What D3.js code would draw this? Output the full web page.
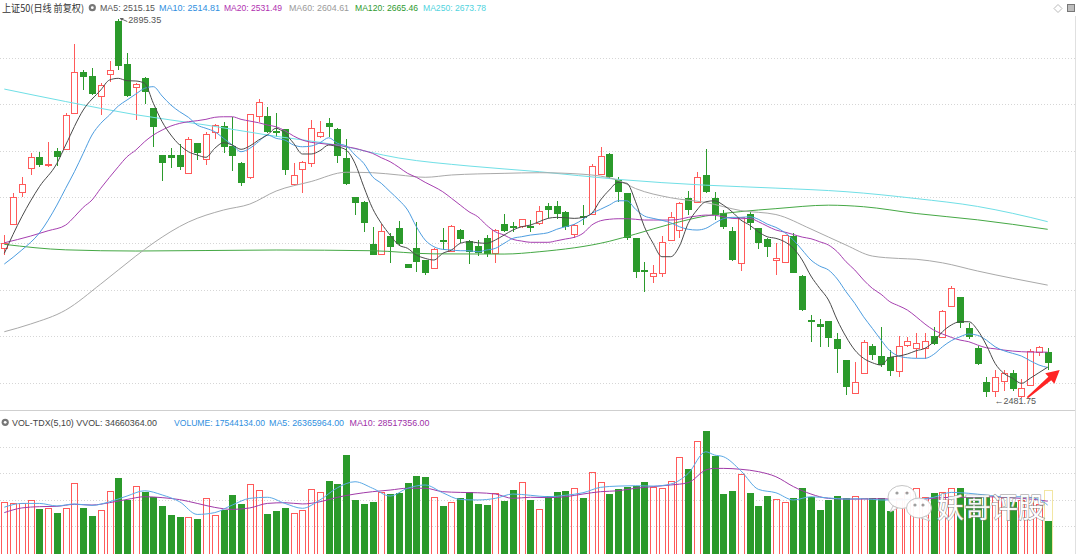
<!DOCTYPE html>
<html><head><meta charset="utf-8">
<script src="https://cdn.jsdelivr.net/npm/d3@7"></script>
<style>
html,body{margin:0;padding:0;background:#fff;}
svg{display:block;}
text{font-family:"Liberation Sans",Arial,sans-serif;}
</style></head><body>
<svg id="chart" width="1080" height="554"></svg>
<script>
// ---------- DATA ----------
const opens = [2644.7,2671.2,2705.8,2732.6,2744.0,2736.1,2751.2,2752.7,2791.9,2836.7,
2832.6,2810.8,2834.5,2893.1,2845.7,2821.0,2830.8,2797.4,2746.5,2746.5,
2746.5,2726.5,2759.2,2741.8,2771.9,2778.1,2756.6,2738.1,2722.2,2789.0,
2789.0,2773.2,2774.5,2714.8,2731.2,2737.4,2767.5,2781.0,2774.8,2742.9,
2700.3,2695.5,2649.4,2638.5,2658.1,2667.2,2627.3,2644.7,2632.0,2622.9,
2653.6,2642.1,2664.7,2652.7,2647.6,2656.3,2639.9,2671.2,2668.8,2669.0,
2669.0,2672.0,2690.9,2690.9,2684.6,2660.3,2679.7,2682.1,2725.8,2747.6,
2719.2,2704.7,2655.6,2621.6,2614.9,2618.1,2653.8,2664.7,2699.3,2695.5,
2724.7,2699.3,2682.9,2663.6,2628.4,2682.1,2666.5,2654.5,2632.0,2630.1,
2658.1,2614.5,2566.5,2562.2,2565.4,2545.5,2522.9,2486.6,2509.1,2538.5,
2527.3,2526.5,2511.3,2539.6,2535.7,2535.7,2549.1,2548.3,2581.8,2591.3,
2557.5,2535.7,2499.3,2489.4,2500.0,2509.1,2484.2,2495.7,2532.0,2532.0];
const highs = [2659.2,2705.4,2722.2,2749.0,2750.1,2761.0,2753.8,2792.3,2867.2,2839.2,
2841.0,2824.7,2849.3,2895.35,2857.4,2825.0,2831.5,2798.0,2747.0,2753.8,
2758.5,2766.4,2759.8,2771.9,2779.8,2782.8,2788.2,2738.6,2791.5,2807.2,
2798.5,2792.3,2775.0,2738.1,2739.8,2784.6,2783.9,2786.5,2775.5,2763.6,
2701.0,2696.0,2668.3,2671.2,2661.1,2674.8,2628.0,2673.8,2632.5,2644.7,
2666.5,2670.0,2665.3,2653.3,2653.8,2659.2,2665.3,2682.1,2673.8,2677.0,
2675.6,2690.9,2694.1,2696.3,2685.2,2671.2,2691.9,2736.7,2754.9,2748.2,
2722.2,2705.3,2656.2,2630.1,2626.5,2658.1,2684.3,2695.0,2707.5,2728.3,
2752.7,2706.5,2686.5,2668.3,2679.1,2684.6,2667.0,2655.6,2650.2,2659.8,
2661.7,2615.6,2572.0,2567.3,2566.0,2552.7,2523.5,2521.1,2544.7,2540.4,
2559.2,2533.8,2549.1,2548.3,2552.0,2552.0,2559.2,2577.3,2603.6,2591.9,
2563.6,2538.2,2504.1,2512.0,2512.0,2512.0,2501.9,2534.6,2538.2,2535.7];
const lows = [2637.4,2670.1,2700.3,2724.7,2733.7,2733.7,2734.5,2751.9,2791.2,2817.4,
2811.9,2790.1,2826.4,2839.2,2810.0,2784.6,2802.1,2754.9,2718.4,2732.6,
2730.1,2725.8,2741.0,2735.6,2763.6,2749.0,2729.4,2712.7,2720.0,2782.8,
2770.1,2766.4,2724.7,2713.8,2704.7,2733.1,2764.7,2766.4,2737.4,2713.8,
2681.0,2662.8,2637.0,2637.4,2629.0,2648.3,2623.0,2619.2,2615.6,2622.5,
2642.9,2641.5,2650.2,2627.6,2636.7,2635.6,2629.0,2662.8,2662.8,2666.5,
2662.8,2670.1,2677.8,2676.4,2664.7,2655.6,2670.1,2681.0,2724.7,2720.0,
2695.5,2653.8,2612.0,2597.4,2606.6,2613.8,2652.7,2655.6,2681.0,2695.0,
2704.7,2675.6,2665.5,2631.2,2620.3,2664.7,2643.6,2635.6,2615.6,2629.0,
2617.5,2576.3,2542.9,2537.4,2537.4,2508.4,2484.8,2486.0,2508.4,2522.9,
2515.0,2505.5,2504.1,2537.4,2524.8,2523.7,2539.8,2546.6,2581.2,2557.5,
2545.5,2517.4,2482.2,2483.0,2489.4,2489.4,2481.75,2494.6,2527.3,2512.0];
const closes = [2650.8,2701.0,2714.8,2744.0,2735.6,2737.2,2744.6,2790.1,2837.3,2831.2,
2813.0,2822.8,2839.2,2843.5,2810.8,2823.9,2815.5,2777.3,2737.4,2743.5,
2733.1,2763.9,2749.0,2769.4,2779.2,2754.9,2745.4,2715.6,2790.9,2804.6,
2771.9,2770.1,2730.1,2724.7,2739.2,2775.6,2771.2,2777.3,2745.4,2714.8,
2693.8,2672.6,2637.4,2663.9,2646.5,2649.4,2623.6,2630.1,2617.5,2643.6,
2652.5,2669.4,2654.5,2641.0,2639.9,2638.2,2664.7,2663.6,2667.7,2676.4,
2667.6,2685.7,2686.5,2682.1,2668.3,2670.1,2678.6,2734.5,2745.4,2722.8,
2706.5,2655.6,2619.2,2620.5,2617.5,2651.3,2678.5,2694.5,2686.5,2722.2,
2706.5,2681.0,2668.3,2632.0,2678.5,2672.0,2650.2,2645.8,2633.8,2659.2,
2618.1,2577.4,2564.0,2559.2,2547.2,2534.6,2493.8,2498.6,2542.9,2528.4,
2517.1,2510.9,2538.5,2543.3,2541.1,2544.0,2540.4,2576.7,2601.1,2562.9,
2547.7,2518.6,2487.7,2504.7,2509.1,2491.0,2492.0,2533.1,2536.8,2520.0];
// volume, millions
const volumes = [27.9,27.4,27.7,29.2,24.0,24.6,21.8,24.6,38.4,24.9,
20.3,23.6,34.2,41.2,29.2,37.1,33.8,31.0,26.0,20.7,
19.9,19.9,18.5,30.1,20.9,23.6,31.9,26.8,38.0,34.7,
21.3,23.1,24.9,21.8,23.6,35.3,33.6,39.9,38.0,54.1,
29.2,27.0,28.2,33.8,32.5,32.9,38.8,42.6,41.7,30.7,
25.9,28.2,30.1,33.8,27.0,26.4,33.2,28.8,34.7,39.0,
29.2,24.0,31.6,33.8,34.3,35.7,30.5,44.5,39.1,32.5,
35.1,36.5,36.9,39.0,36.5,35.7,39.7,53.2,46.2,62.0,
67.4,53.5,32.5,34.3,43.6,33.2,26.0,31.4,29.6,27.9,
30.5,36.0,31.0,23.6,29.2,31.4,30.1,31.6,30.1,30.1,
30.1,23.3,30.1,33.8,35.7,30.7,33.2,33.8,35.7,35.7,
31.0,30.7,31.9,31.4,30.7,28.2,29.2,31.0,27.0,17.544134];
const vvolLast = 34.660364;

// moving-average lines: [day index, value]
const ma5 = [[1,2639.3],[3,2679.2],[5,2711.9],[7,2737.4],[8,2757.4],[10,2795.5],[12,2817.4],[13,2828.3],[14,2830.1],[15,2827.5],[16,2827.2],[17,2824.7],[18,2802.9],[19,2782.8],[20,2768.3],[21,2757.4],[22,2750.1],[23,2746.5],[24,2744.0],[25,2753.8],[26,2759.9],[27,2757.4],[28,2752.7],[29,2756.3],[30,2762.8],[31,2768.3],[32,2775.6],[33,2770.1],[34,2759.2],[35,2747.6],[36,2747.6],[37,2751.2],[38,2757.4],[39,2755.5],[40,2751.9],[41,2737.4],[42,2711.9],[43,2688.3],[44,2672.0],[45,2659.2],[46,2648.3],[47,2644.7],[48,2637.4],[49,2633.8],[50,2632.0],[51,2639.3],[52,2642.9],[53,2650.2],[54,2651.9],[55,2650.8],[56,2650.2],[57,2653.8],[58,2659.2],[59,2664.7],[60,2668.3],[61,2670.1],[62,2673.8],[63,2677.4],[64,2678.5],[65,2678.1],[66,2677.4],[67,2678.5],[68,2682.9],[69,2697.4],[70,2708.3],[71,2716.7],[72,2715.6],[73,2695.5],[74,2668.3],[75,2650.2],[76,2635.6],[77,2635.6],[78,2647.2],[79,2672.0],[80,2686.5],[81,2695.5],[82,2696.6],[83,2691.9],[84,2684.6],[85,2675.6],[86,2670.1],[87,2662.8],[88,2657.4],[89,2655.6],[90,2651.9],[91,2644.7],[92,2632.0],[93,2614.5],[94,2601.1],[95,2588.4],[96,2566.5],[97,2548.3],[98,2533.8],[99,2524.8],[100,2520.0],[101,2517.5],[102,2525.9],[103,2527.3],[104,2529.5],[105,2533.1],[106,2535.7],[107,2542.9],[108,2553.8],[109,2561.1],[110,2564.7],[111,2564.7],[112,2555.6],[113,2539.3],[114,2519.3],[115,2508.4],[116,2503.0],[117,2497.5],[118,2503.0],[119,2509.1],[120,2515.15]];
const ma10 = [[1,2627.6],[3,2642.9],[5,2661.4],[7,2691.9],[8,2710.2],[9,2728.3],[10,2748.3],[11,2768.3],[12,2781.0],[13,2790.1],[14,2799.9],[15,2806.5],[16,2813.0],[17,2819.2],[18,2821.0],[19,2810.8],[20,2801.0],[21,2793.7],[22,2787.6],[23,2779.2],[24,2775.6],[25,2771.9],[26,2764.7],[27,2757.4],[28,2750.1],[29,2753.8],[30,2761.0],[31,2768.3],[32,2764.7],[33,2762.8],[34,2757.4],[35,2755.5],[36,2756.3],[37,2759.9],[38,2765.3],[39,2759.2],[40,2756.3],[41,2746.5],[42,2737.4],[43,2722.8],[44,2715.6],[45,2706.5],[46,2697.4],[47,2686.5],[48,2668.3],[49,2653.8],[50,2646.5],[51,2643.6],[52,2642.9],[53,2642.1],[54,2642.1],[55,2641.0],[56,2642.9],[57,2644.7],[58,2650.2],[59,2655.6],[60,2657.4],[61,2659.2],[62,2660.3],[63,2661.7],[64,2665.5],[65,2668.3],[66,2670.9],[67,2676.4],[68,2682.9],[69,2687.3],[70,2691.9],[71,2696.6],[72,2696.6],[73,2687.3],[74,2680.0],[75,2677.4],[76,2675.3],[77,2672.6],[78,2668.3],[79,2665.5],[80,2664.7],[81,2666.5],[82,2672.0],[83,2677.0],[84,2678.5],[85,2678.5],[86,2679.2],[87,2676.4],[88,2671.2],[89,2667.6],[90,2662.0],[91,2653.8],[92,2642.9],[93,2632.0],[94,2625.4],[95,2621.1],[96,2611.3],[97,2597.4],[98,2584.7],[99,2570.1],[100,2557.5],[101,2544.7],[102,2533.1],[103,2527.3],[104,2525.4],[105,2524.8],[106,2524.8],[107,2529.1],[108,2537.4],[109,2544.0],[110,2548.3],[111,2551.3],[112,2549.9],[113,2544.7],[114,2537.4],[115,2533.1],[116,2530.2],[117,2527.3],[118,2522.2],[119,2517.5],[120,2514.81]];
const ma20 = [[1,2650.8],[4,2658.1],[6,2663.9],[8,2670.1],[9,2679.2],[10,2689.4],[11,2697.4],[12,2710.2],[13,2722.2],[14,2733.7],[15,2744.6],[16,2751.9],[17,2761.0],[18,2768.3],[19,2773.7],[20,2778.1],[21,2781.0],[22,2782.8],[23,2783.9],[24,2785.4],[25,2787.6],[26,2788.2],[27,2788.2],[28,2785.4],[29,2783.5],[30,2781.7],[31,2779.2],[32,2777.3],[33,2773.0],[34,2767.2],[35,2762.8],[36,2760.3],[37,2759.2],[38,2758.1],[39,2757.4],[40,2755.5],[41,2753.8],[42,2751.2],[43,2748.3],[44,2743.5],[45,2739.2],[46,2733.1],[47,2726.5],[48,2722.2],[49,2716.7],[50,2711.9],[51,2706.5],[52,2699.3],[53,2691.9],[54,2684.6],[55,2679.2],[56,2670.0],[57,2662.8],[58,2659.2],[59,2654.5],[60,2652.7],[61,2651.3],[62,2651.3],[63,2651.3],[64,2653.0],[65,2654.9],[66,2656.7],[67,2661.1],[68,2670.1],[69,2674.8],[70,2676.4],[71,2677.0],[72,2677.0],[73,2676.4],[74,2675.6],[75,2675.6],[76,2675.6],[77,2675.6],[78,2676.4],[79,2678.5],[80,2680.0],[81,2681.0],[82,2680.7],[83,2679.2],[84,2677.4],[85,2677.0],[86,2677.4],[87,2673.8],[88,2669.0],[89,2664.7],[90,2662.5],[91,2659.8],[92,2657.0],[93,2655.2],[94,2651.9],[95,2648.3],[96,2641.0],[97,2630.1],[98,2621.1],[99,2610.2],[100,2601.1],[101,2594.6],[102,2586.5],[103,2582.1],[104,2577.4],[105,2570.1],[106,2562.2],[107,2555.6],[108,2551.3],[109,2547.7],[110,2544.7],[111,2542.9],[112,2539.3],[113,2536.3],[114,2535.2],[115,2533.8],[116,2532.7],[117,2532.0],[118,2531.6],[119,2531.6],[120,2531.49]];
const ma60 = [[1,2553.8],[4,2562.2],[8,2577.4],[12,2605.8],[16,2636.3],[18,2650.5],[22,2673.4],[26,2686.5],[29,2693.0],[32,2707.2],[36,2717.6],[40,2727.7],[43,2727.2],[46,2724.7],[49,2722.2],[52,2724.7],[58,2726.5],[62,2727.2],[67,2725.5],[71,2719.0],[73,2709.9],[77,2699.9],[81,2694.7],[85,2685.9],[89,2681.6],[93,2665.8],[97,2648.3],[100,2636.3],[103,2633.7],[105,2632.8],[108,2628.9],[112,2620.0],[116,2612.0],[120,2604.61]];
const ma120 = [[1,2649.1],[8,2643.1],[16,2641.8],[32,2642.9],[43,2642.1],[50,2638.7],[58,2638.5],[62,2641.0],[70,2652.4],[73,2660.3],[77,2671.2],[81,2680.0],[85,2684.8],[89,2688.0],[95,2691.8],[99,2690.1],[105,2682.7],[112,2675.8],[120,2665.46]];
const ma250 = [[1,2818.4],[8,2804.8],[16,2790.4],[24,2779.2],[31,2768.3],[39,2757.2],[46,2743.2],[54,2734.5],[62,2728.3],[71,2719.9],[81,2713.6],[89,2710.4],[97,2706.5],[105,2699.0],[112,2690.4],[116,2682.9],[120,2673.78]];
const volMa5 = [[1,25.2],[3,27.3],[5,27.3],[7,25.9],[9,27.0],[11,26.2],[13,28.2],[15,31.4],[17,34.3],[19,32.0],[21,28.2],[23,21.2],[25,22.2],[27,26.4],[29,30.1],[31,30.7],[33,27.3],[35,24.6],[37,29.2],[39,36.0],[41,39.3],[43,35.7],[45,31.4],[47,35.7],[49,37.5],[51,33.2],[53,29.5],[55,29.2],[57,30.1],[59,32.5],[61,31.8],[63,31.0],[65,31.8],[67,33.2],[69,36.2],[71,36.9],[73,37.1],[75,36.9],[77,38.0],[79,43.9],[81,55.9],[82,54.1],[83,53.2],[85,45.4],[87,35.1],[89,33.2],[91,29.2],[93,31.0],[95,30.3],[97,29.7],[99,29.9],[101,29.2],[103,29.2],[105,29.5],[107,30.7],[109,33.4],[111,32.9],[113,31.9],[115,31.0],[117,31.0],[119,29.5],[120,26.365964]];
const volMa10 = [[1,22.2],[3,24.8],[5,25.5],[7,25.7],[9,26.8],[11,26.4],[13,27.7],[15,29.5],[17,31.0],[19,30.5],[21,29.4],[23,27.3],[25,25.1],[27,24.0],[29,24.8],[31,27.3],[33,27.7],[35,27.0],[37,28.2],[39,30.7],[41,32.5],[43,33.8],[45,34.7],[47,35.7],[49,35.7],[51,33.8],[53,33.4],[55,33.2],[57,32.5],[59,30.1],[61,30.7],[63,30.5],[65,31.0],[67,32.5],[69,33.8],[71,34.3],[73,35.7],[75,36.6],[77,37.5],[79,38.8],[81,45.8],[82,46.7],[83,46.7],[85,46.2],[87,44.9],[89,42.1],[91,36.6],[93,32.5],[95,30.1],[97,29.7],[99,29.7],[101,29.9],[103,29.5],[105,29.5],[107,30.1],[109,30.7],[111,30.7],[113,31.0],[115,30.7],[117,30.1],[119,29.2],[120,28.517356]];
const priceGrid = [2852.6,2802.0,2751.4,2700.8,2650.2,2599.6,2548.9,2498.4];
const volGrid = [14.7,29.4,44.1,58.8];
const headerItems = [
  {t:"MA5: 2515.15", c:"#555555", x:100, w:55},
  {t:"MA10: 2514.81", c:"#2f8fe0", x:159, w:61},
  {t:"MA20: 2531.49", c:"#b030b0", x:224, w:58},
  {t:"MA60: 2604.61", c:"#9a9a9a", x:289, w:60},
  {t:"MA120: 2665.46", c:"#2e9a2e", x:355, w:63},
  {t:"MA250: 2673.78", c:"#4fd3de", x:423, w:63}
];
const volHeaderItems = [
  {t:"VOL-TDX(5,10) VVOL: 34660364.00", c:"#444444", x:12, w:145},
  {t:"VOLUME: 17544134.00", c:"#2f8fe0", x:174, w:91},
  {t:"MA5: 26365964.00", c:"#2f8fe0", x:269, w:75},
  {t:"MA10: 28517356.00", c:"#a030a8", x:349.5, w:80}
];
const hiIdx = 14, loIdx = 117;

// ---------- DRAW ----------
const RED = "#ff5a5a", GREEN = "#2b9a2b";
const svg = d3.select("#chart");
const n = closes.length;
const x = d3.scaleLinear().domain([1, n]).range([4.3, 1047.7]);
const y = d3.scaleLinear().domain([2481.75, 2895.35]).range([397.8, 18.5]);
const yv = d3.scaleLinear().domain([0, 73.5]).range([552.7, 420]);

// grid
svg.append("g").selectAll("line").data(priceGrid).join("line")
  .attr("x1", 0).attr("x2", 1075).attr("y1", d => Math.round(y(d)) + 0.5).attr("y2", d => Math.round(y(d)) + 0.5)
  .attr("stroke", "#d6d6d6").attr("stroke-dasharray", "1,2");
svg.append("g").selectAll("line").data(volGrid).join("line")
  .attr("x1", 0).attr("x2", 1075).attr("y1", d => Math.round(yv(d)) + 0.5).attr("y2", d => Math.round(yv(d)) + 0.5)
  .attr("stroke", "#d6d6d6").attr("stroke-dasharray", "1,2");
// separators
svg.append("line").attr("x1", 0).attr("x2", 1075).attr("y1", 410.5).attr("y2", 410.5).attr("stroke", "#cfcfcf");
svg.append("line").attr("x1", 1075.5).attr("x2", 1075.5).attr("y1", 16).attr("y2", 554).attr("stroke", "#e0e0e0");

// MA lines (price)
const pl = d3.line().x(d => x(d[0])).y(d => y(d[1])).curve(d3.curveMonotoneX);
const maDefs = [[ma250, "#70dfe6"], [ma120, "#45a845"], [ma60, "#a9a9a9"], [ma20, "#a63fb0"], [ma10, "#4d9de0"], [ma5, "#4a4a4a"]];

// candles
const cg = svg.append("g").attr("shape-rendering", "crispEdges");
for (let k = 0; k < n; k++) {
  const o = opens[k], c = closes[k], h = highs[k], l = lows[k];
  const cx = Math.round(x(k + 1));
  const up = c >= o;
  const top = Math.round(y(Math.max(o, c))), bot = Math.round(y(Math.min(o, c)));
  const hh = Math.max(1, bot - top);
  if (up) {
    cg.append("line").attr("x1", cx + 0.5).attr("x2", cx + 0.5).attr("y1", y(h)).attr("y2", top).attr("stroke", RED);
    cg.append("line").attr("x1", cx + 0.5).attr("x2", cx + 0.5).attr("y1", top + hh).attr("y2", y(l)).attr("stroke", RED);
    cg.append("rect").attr("x", cx - 2.5).attr("y", top + 0.5).attr("width", 6).attr("height", hh)
      .attr("fill", "#fff").attr("stroke", RED);
  } else {
    cg.append("line").attr("x1", cx + 0.5).attr("x2", cx + 0.5).attr("y1", y(h)).attr("y2", y(l)).attr("stroke", GREEN);
    cg.append("rect").attr("x", cx - 3).attr("y", top).attr("width", 7).attr("height", Math.max(2, hh))
      .attr("fill", GREEN);
  }
}
// MA lines on top
maDefs.forEach(([data, col]) => {
  svg.append("path").datum(data).attr("d", pl).attr("fill", "none").attr("stroke", col).attr("stroke-width", 1);
});

// volume bars
const vg = svg.append("g").attr("shape-rendering", "crispEdges");
const vb = 554;
{
  const cx = Math.round(x(n));
  vg.append("rect").attr("x", cx - 3.5).attr("y", Math.round(yv(vvolLast)) + 0.5).attr("width", 8)
    .attr("height", vb - Math.round(yv(vvolLast))).attr("fill", "none").attr("stroke", "#f2e6a2");
}
for (let k = 0; k < n; k++) {
  const cx = Math.round(x(k + 1));
  const up = closes[k] >= opens[k];
  const t = Math.round(yv(volumes[k]));
  if (up) {
    vg.append("rect").attr("x", cx - 2.5).attr("y", t + 0.5).attr("width", 6).attr("height", vb - t)
      .attr("fill", "none").attr("stroke", RED);
  } else {
    vg.append("rect").attr("x", cx - 3).attr("y", t).attr("width", 7).attr("height", vb - t).attr("fill", GREEN);
  }
}
const vl = d3.line().x(d => x(d[0])).y(d => yv(d[1])).curve(d3.curveMonotoneX);
svg.append("path").datum(volMa10).attr("d", vl).attr("fill", "none").attr("stroke", "#a03aa8");
svg.append("path").datum(volMa5).attr("d", vl).attr("fill", "none").attr("stroke", "#5aa9e6");

// headers
svg.append("text").attr("x", 2).attr("y", 11.5).attr("font-size", 10).attr("fill", "#333")
  .attr("textLength", 82).attr("lengthAdjust", "spacingAndGlyphs")
  .style("font-family", '"Noto Sans CJK SC","Liberation Sans",sans-serif').text("上证50(日线 前复权)");
svg.append("circle").attr("cx", 92.3).attr("cy", 7.7).attr("r", 3.6).attr("fill", "#777");
svg.append("circle").attr("cx", 92.3).attr("cy", 7.7).attr("r", 1.4).attr("fill", "#fff");
svg.append("g").selectAll("text").data(headerItems).join("text")
  .attr("x", d => d.x).attr("y", 11.2).attr("font-size", 9).attr("fill", d => d.c)
  .attr("textLength", d => d.w).attr("lengthAdjust", "spacingAndGlyphs").text(d => d.t);
svg.append("circle").attr("cx", 5.2).attr("cy", 422.3).attr("r", 3.6).attr("fill", "#777");
svg.append("circle").attr("cx", 5.2).attr("cy", 422.3).attr("r", 1.4).attr("fill", "#fff");
svg.append("g").selectAll("text").data(volHeaderItems).join("text")
  .attr("x", d => d.x).attr("y", 425.8).attr("font-size", 9).attr("fill", d => d.c)
  .attr("textLength", d => d.w).attr("lengthAdjust", "spacingAndGlyphs").text(d => d.t);

// top-right icons
svg.append("path").attr("d", "M1058,4.5 L1062,8.5 L1058,12.5 L1054,8.5 Z").attr("fill", "none").attr("stroke", "#bbb");
svg.append("rect").attr("x", 1067.5).attr("y", 4.5).attr("width", 7).attr("height", 7).attr("fill", "#bdbdbd").attr("stroke", "#777");

// extreme labels
{
  const hx = x(hiIdx), hy = y(highs[hiIdx - 1]);
  svg.append("line").attr("x1", hx + 2).attr("y1", hy).attr("x2", hx + 9).attr("y2", hy + 3).attr("stroke", "#666");
  svg.append("path").attr("d", `M${hx + 1.5},${hy - 0.5} l4,0 l-2,3 z`).attr("fill", "#666");
  svg.append("text").attr("x", hx + 10).attr("y", hy + 4.5).attr("font-size", 9).attr("fill", "#555")
    .attr("textLength", 33).attr("lengthAdjust", "spacingAndGlyphs").text(highs[hiIdx - 1].toFixed(2));
  const lx = x(loIdx), ly = y(lows[loIdx - 1]);
  svg.append("text").attr("x", lx - 27).attr("y", ly + 6).attr("font-size", 9).attr("fill", "#555")
    .text("←" + lows[loIdx - 1].toFixed(2));
}

// red annotation arrow
{
  const x0 = x(loIdx) + 6, y0 = y(2482), x1 = x(n) + 12, y1 = y(2512);
  const dx = x1 - x0, dy = y1 - y0, L = Math.hypot(dx, dy), ux = dx / L, uy = dy / L, px = -uy, py = ux;
  const hl = 13, hw = 7, bx = x1 - ux * hl, by = y1 - uy * hl;
  const p = [
    [x0 + px * 0.8, y0 + py * 0.8], [bx + px * 2.2, by + py * 2.2], [bx + px * hw, by + py * hw], [x1, y1],
    [bx - px * hw, by - py * hw], [bx - px * 2.2, by - py * 2.2], [x0 - px * 0.8, y0 - py * 0.8]
  ];
  svg.append("path").attr("d", "M" + p.map(q => q.join(",")).join("L") + "Z").attr("fill", "#ff2424");
}

// watermark
{
  const wg = svg.append("g").attr("opacity", 0.95);
  wg.append("ellipse").attr("cx", 902).attr("cy", 497).attr("rx", 14).attr("ry", 11.5).attr("fill", "#fff").attr("stroke", "#c4c4c4");
  wg.append("path").attr("d", "M893,506 l-3,6 l8,-4 z").attr("fill", "#fff").attr("stroke", "#c4c4c4");
  wg.append("ellipse").attr("cx", 919).attr("cy", 508).attr("rx", 12.5).attr("ry", 10).attr("fill", "#fff").attr("stroke", "#c4c4c4");
  wg.append("path").attr("d", "M926,516 l4,5 l-9,-3 z").attr("fill", "#fff").attr("stroke", "#c4c4c4");
  [[897, 493], [907, 493], [915, 505], [923, 505]].forEach(([a, b]) =>
    wg.append("circle").attr("cx", a).attr("cy", b).attr("r", 1.6).attr("fill", "#9a9a9a"));
  wg.append("text").attr("x", 937).attr("y", 518).attr("font-size", 28)
    .attr("textLength", 108).attr("lengthAdjust", "spacingAndGlyphs")
    .style("font-family", '"Noto Sans CJK SC",sans-serif')
    .attr("fill", "#fff").attr("stroke", "#8a8a8a").attr("stroke-width", 1.1).attr("paint-order", "stroke")
    .text("妖哥评股");
}
</script>
</body></html>
